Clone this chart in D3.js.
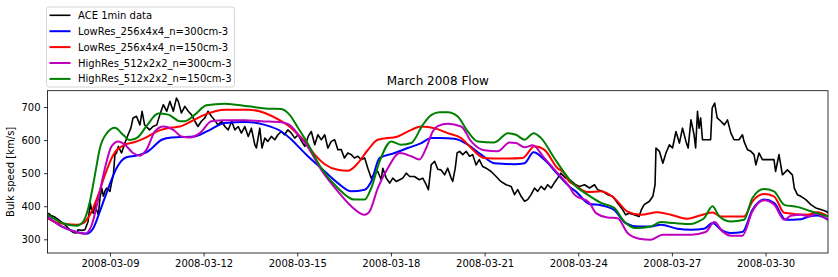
<!DOCTYPE html>
<html>
<head>
<meta charset="utf-8">
<script src="https://cdn.jsdelivr.net/npm/d3@7"></script>
<style>
  body { margin: 0; background: #fff; }
  text { font-family: "DejaVu Sans", sans-serif; }
</style>
</head>
<body>
<div id="plot"></div>
<script>
// time is in days after 2008-03-07 00:00 UTC, speed in km/s
const ace = [
  [0, 375], [0.05, 378], [0.1, 372], [0.2, 369], [0.34, 360], [0.45, 352], [0.56, 344], [0.67, 333],
  [0.77, 324], [0.85, 320], [0.93, 319], [0.98, 329], [1.1, 327], [1.2, 329], [1.3, 354], [1.37, 410],
  [1.42, 385], [1.47, 379], [1.52, 405], [1.57, 390], [1.63, 374], [1.68, 425], [1.74, 455], [1.79, 430],
  [1.85, 448], [1.9, 455], [2.0, 445], [2.05, 470], [2.11, 495], [2.16, 556], [2.21, 561], [2.27, 581],
  [2.37, 561], [2.48, 591], [2.58, 616], [2.67, 636], [2.74, 667], [2.85, 672], [2.96, 646], [3.03, 687],
  [3.11, 646], [3.27, 631], [3.38, 641], [3.5, 646], [3.6, 677], [3.71, 707], [3.82, 687], [3.92, 717],
  [4.03, 687], [4.13, 727], [4.19, 717], [4.29, 682], [4.4, 702], [4.51, 687], [4.61, 677], [4.72, 657],
  [4.82, 641], [4.93, 657], [5.04, 667], [5.14, 687], [5.25, 672], [5.35, 661], [5.46, 646], [5.58, 657],
  [5.68, 641], [5.79, 631], [5.9, 657], [6.0, 631], [6.11, 641], [6.21, 621], [6.32, 641], [6.43, 611],
  [6.53, 636], [6.64, 586], [6.69, 576], [6.8, 636], [6.87, 576], [6.96, 606], [7.06, 596], [7.17, 611],
  [7.28, 601], [7.38, 616], [7.49, 626], [7.59, 616], [7.7, 631], [7.81, 621], [7.92, 606], [8.03, 616],
  [8.14, 596], [8.24, 581], [8.35, 611], [8.45, 626], [8.56, 586], [8.66, 616], [8.77, 601], [8.88, 616],
  [8.98, 576], [9.09, 596], [9.2, 601], [9.3, 571], [9.41, 571], [9.51, 546], [9.62, 561], [9.73, 556],
  [9.83, 546], [9.94, 551], [10.05, 541], [10.16, 546], [10.26, 515], [10.37, 485], [10.48, 500], [10.58, 505],
  [10.69, 480], [10.74, 515], [10.85, 485], [10.96, 470], [11.06, 485], [11.17, 475], [11.28, 480], [11.38, 485],
  [11.49, 500], [11.6, 490], [11.75, 490], [11.91, 480], [12.02, 485], [12.13, 465], [12.2, 450], [12.29, 525],
  [12.4, 536], [12.5, 512], [12.6, 510], [12.72, 495], [12.82, 515], [12.93, 485], [12.98, 475], [13.06, 515],
  [13.12, 561], [13.2, 566], [13.3, 556], [13.41, 566], [13.52, 551], [13.62, 556], [13.73, 525], [13.83, 541],
  [13.94, 520], [14.05, 515], [14.21, 505], [14.37, 490], [14.52, 475], [14.69, 465], [14.85, 460], [14.96, 435],
  [15.06, 450], [15.17, 430], [15.28, 415], [15.38, 420], [15.49, 435], [15.6, 455], [15.7, 445], [15.81, 460],
  [15.92, 450], [16.02, 465], [16.13, 455], [16.23, 470], [16.34, 485], [16.44, 500], [16.6, 485], [16.76, 478],
  [16.92, 465], [17.04, 460], [17.2, 465], [17.36, 455], [17.52, 465], [17.62, 450], [17.78, 445], [17.94, 435],
  [18.1, 430], [18.26, 410], [18.42, 390], [18.52, 374], [18.63, 379], [18.79, 374], [18.95, 369], [19.02, 389],
  [19.11, 405], [19.28, 415], [19.39, 430], [19.46, 465], [19.49, 576], [19.6, 566], [19.71, 530], [19.81, 561],
  [19.92, 586], [20.02, 576], [20.13, 626], [20.24, 591], [20.34, 636], [20.45, 596], [20.52, 576], [20.61, 661],
  [20.71, 616], [20.76, 576], [20.82, 687], [20.87, 636], [20.92, 667], [20.98, 601], [21.24, 601], [21.29, 697],
  [21.37, 712], [21.45, 667], [21.57, 657], [21.68, 646], [21.78, 661], [21.89, 621], [21.99, 601], [22.15, 601],
  [22.26, 616], [22.31, 596], [22.42, 571], [22.53, 566], [22.63, 556], [22.69, 525], [22.79, 561], [22.9, 541],
  [23.0, 541], [23.27, 541], [23.32, 505], [23.43, 556], [23.54, 495], [23.7, 510], [23.86, 495], [23.92, 455],
  [24.02, 435], [24.13, 430], [24.29, 420], [24.45, 405], [24.61, 395], [24.77, 390], [24.93, 385], [25.0, 380]
];

const lowRes300 = [
  [0, 369], [0.45, 339], [0.93, 322], [1.26, 317], [1.47, 334], [1.68, 385], [1.95, 455], [2.21, 515],
  [2.53, 548], [2.85, 553], [3.22, 566], [3.66, 601], [3.98, 608], [4.24, 609], [4.72, 611], [5.14, 628],
  [5.68, 652], [6.32, 655], [6.96, 646], [7.49, 626], [7.82, 601], [8.08, 576], [8.3, 555], [8.77, 515],
  [9.3, 470], [9.73, 445], [10.16, 450], [10.37, 475], [10.64, 546], [11.12, 561], [11.54, 576], [11.97, 591],
  [12.3, 606], [12.56, 606], [13.04, 604], [13.46, 586], [13.89, 556], [14.31, 530], [14.96, 527], [15.28, 530],
  [15.57, 563], [15.91, 541], [16.34, 497], [16.71, 460], [16.92, 445], [17.36, 407], [17.73, 403], [18.15, 389],
  [18.52, 349], [18.9, 339], [19.33, 339], [19.65, 344], [20.18, 332], [20.61, 329], [21.03, 332], [21.3, 349],
  [21.57, 329], [21.89, 319], [22.26, 322], [22.58, 389], [22.95, 420], [23.27, 410], [23.65, 359], [24.13, 361],
  [24.39, 369], [24.66, 372], [25.0, 359]
];

const lowRes150 = [
  [0, 364], [0.34, 349], [0.93, 344], [1.15, 349], [1.36, 374], [1.63, 435], [1.84, 495], [2.11, 556],
  [2.48, 586], [2.8, 594], [3.11, 606], [3.55, 628], [3.98, 638], [4.24, 641], [4.61, 657], [5.04, 677],
  [5.68, 692], [6.43, 692], [6.96, 682], [7.49, 657], [7.75, 641], [8.03, 616], [8.24, 596], [8.56, 556],
  [8.88, 527], [9.3, 510], [9.62, 507], [9.94, 530], [10.26, 570], [10.58, 601], [11.22, 611], [11.65, 631],
  [11.97, 641], [12.4, 636], [12.82, 621], [13.25, 606], [13.57, 576], [13.99, 546], [14.53, 544], [15.22, 546],
  [15.6, 581], [15.91, 571], [16.34, 515], [16.55, 500], [16.71, 475], [16.88, 465], [17.3, 443], [17.73, 445],
  [18.15, 425], [18.58, 384], [19.01, 374], [19.54, 382], [19.97, 374], [20.5, 362], [20.87, 371], [21.3, 381],
  [21.57, 369], [22.31, 369], [22.58, 415], [22.95, 437], [23.27, 430], [23.6, 380], [24.34, 374], [24.66, 382],
  [25.0, 369]
];

const highRes300 = [
  [0, 367], [0.45, 339], [0.93, 322], [1.2, 317], [1.42, 344], [1.63, 425], [1.84, 515], [2.05, 581],
  [2.27, 596], [2.48, 586], [2.74, 561], [2.96, 553], [3.17, 571], [3.44, 626], [3.71, 641], [4.03, 631],
  [4.29, 611], [4.56, 608], [4.88, 621], [5.25, 657], [5.68, 660], [6.32, 660], [6.85, 657], [7.49, 654],
  [7.75, 646], [8.08, 611], [8.3, 585], [8.77, 510], [9.3, 445], [9.73, 400], [10.16, 374], [10.32, 385],
  [10.58, 455], [10.9, 515], [11.28, 561], [11.65, 551], [11.91, 541], [12.13, 576], [12.34, 626], [12.5, 642],
  [12.82, 649], [13.25, 641], [13.57, 596], [13.99, 569], [14.42, 566], [14.8, 593], [15.01, 591], [15.28, 578],
  [15.54, 584], [15.91, 546], [16.34, 500], [16.71, 460], [16.88, 435], [17.36, 410], [17.57, 379], [17.94, 366],
  [18.26, 364], [18.58, 319], [18.95, 302], [19.33, 299], [19.7, 314], [20.18, 314], [20.61, 314], [21.08, 322],
  [21.36, 352], [21.62, 324], [21.89, 311], [22.26, 311], [22.58, 385], [22.95, 418], [23.27, 405], [23.6, 359],
  [23.81, 371], [24.13, 374], [24.39, 369], [24.61, 377], [25.0, 359]
];

const highRes150 = [
  [0, 375], [0.45, 350], [0.93, 341], [1.15, 354], [1.36, 415], [1.52, 495], [1.68, 576], [1.9, 621],
  [2.16, 637], [2.42, 616], [2.64, 600], [2.9, 609], [3.17, 642], [3.55, 680], [3.87, 677], [4.24, 657],
  [4.4, 657], [4.72, 677], [5.09, 705], [5.68, 710], [6.43, 702], [7.06, 695], [7.49, 694], [7.75, 677],
  [8.03, 636], [8.27, 600], [8.77, 515], [9.3, 455], [9.83, 420], [10.16, 420], [10.37, 455], [10.64, 536],
  [11.01, 596], [11.33, 586], [11.65, 591], [12.02, 646], [12.3, 676], [12.56, 684], [12.82, 684], [13.14, 671],
  [13.46, 626], [13.78, 596], [14.31, 593], [14.75, 621], [15.01, 616], [15.28, 601], [15.57, 621], [15.81, 606],
  [16.23, 546], [16.71, 482], [16.87, 465], [17.3, 435], [17.73, 410], [18.15, 395], [18.47, 354], [18.84, 334],
  [19.33, 339], [19.65, 352], [20.07, 349], [20.61, 346], [20.87, 355], [21.03, 364], [21.3, 400], [21.52, 369],
  [21.89, 354], [22.31, 359], [22.58, 425], [22.95, 452], [23.27, 445], [23.6, 404], [24.02, 398], [24.45, 385],
  [25.0, 369]
];

const seriesNames = ["ACE 1min data", "LowRes_256x4x4_n=300cm-3", "LowRes_256x4x4_n=150cm-3",
                     "HighRes_512x2x2_n=300cm-3", "HighRes_512x2x2_n=150cm-3"];
const seriesColors = ["#000000", "#0000ff", "#ff0000", "#bf00bf", "#008000"];
const tickDates = ["2008-03-09", "2008-03-12", "2008-03-15", "2008-03-18", "2008-03-21",
                   "2008-03-24", "2008-03-27", "2008-03-30"];
const speedTicks = [300, 400, 500, 600, 700];

const width = 838, height = 277;
const plotLeft = 47.5, plotRight = 828, plotTop = 90.7, plotBottom = 253;
const t0 = Date.UTC(2008, 2, 7);
const toDate = d => new Date(t0 + d * 864e5);

const svg = d3.select("#plot").append("svg")
    .attr("width", width)
    .attr("height", height);

const x = d3.scaleUtc()
    .domain([toDate(0), toDate(25)])
    .range([plotLeft, plotRight]);

const y = d3.scaleLinear()
    .domain([258.6, 749.3])
    .range([plotBottom, plotTop]);

svg.append("clipPath").attr("id", "clip")
  .append("rect")
    .attr("x", plotLeft).attr("y", plotTop)
    .attr("width", plotRight - plotLeft).attr("height", plotBottom - plotTop);

const plot = svg.append("g").attr("clip-path", "url(#clip)");

const rawLine = d3.line()
    .x(d => x(toDate(d[0])))
    .y(d => y(d[1]));

const smoothLine = d3.line()
    .x(d => x(toDate(d[0])))
    .y(d => y(d[1]))
    .curve(d3.curveMonotoneX);

plot.append("path")
    .datum(ace)
    .attr("fill", "none")
    .attr("stroke", seriesColors[0])
    .attr("stroke-width", 1.6)
    .attr("stroke-linejoin", "round")
    .attr("d", rawLine);

[lowRes300, lowRes150, highRes300, highRes150].forEach((s, i) => {
    plot.append("path")
        .datum(s)
        .attr("fill", "none")
        .attr("stroke", seriesColors[i + 1])
        .attr("stroke-width", 2)
        .attr("d", smoothLine);
});

// axes
const xAxis = d3.axisBottom(x)
    .tickValues(tickDates.map(s => new Date(s + "T00:00:00Z")))
    .tickFormat(d3.utcFormat("%Y-%m-%d"))
    .tickSize(3.5)
    .tickPadding(3.5);

const yAxis = d3.axisLeft(y)
    .tickValues(speedTicks)
    .tickSize(3.5)
    .tickPadding(3.5);

const gx = svg.append("g").attr("transform", `translate(0,${plotBottom})`).call(xAxis);
const gy = svg.append("g").attr("transform", `translate(${plotLeft},0)`).call(yAxis);
[gx, gy].forEach(g => {
    g.select(".domain").remove();
    g.selectAll("text").attr("font-family", "DejaVu Sans").attr("font-size", 10).attr("fill", "#000");
    g.selectAll("line").attr("stroke", "#000").attr("stroke-width", 0.8);
});

// frame
svg.append("rect")
    .attr("x", plotLeft).attr("y", plotTop)
    .attr("width", plotRight - plotLeft).attr("height", plotBottom - plotTop)
    .attr("fill", "none")
    .attr("stroke", "#000")
    .attr("stroke-width", 0.8);

svg.append("text")
    .attr("x", (plotLeft + plotRight) / 2)
    .attr("y", plotTop - 6)
    .attr("text-anchor", "middle")
    .attr("font-size", 12)
    .text("March 2008 Flow");

svg.append("text")
    .attr("transform", `translate(14,${(plotTop + plotBottom) / 2}) rotate(-90)`)
    .attr("text-anchor", "middle")
    .attr("font-size", 10)
    .text("Bulk speed [km/s]");

// legend
const legend = svg.append("g");
legend.append("rect")
    .attr("x", 46.5).attr("y", 7)
    .attr("width", 188).attr("height", 80)
    .attr("rx", 2.5)
    .attr("fill", "#fff")
    .attr("stroke", "#cccccc")
    .attr("stroke-width", 0.8);

seriesNames.forEach((name, i) => {
    const cy = 15.3 + i * 15.9;
    legend.append("line")
        .attr("x1", 49.5).attr("x2", 70.5)
        .attr("y1", cy).attr("y2", cy)
        .attr("stroke", seriesColors[i])
        .attr("stroke-width", i === 0 ? 1.6 : 2);
    legend.append("text")
        .attr("x", 78)
        .attr("y", cy)
        .attr("dy", "0.35em")
        .attr("font-size", 10)
        .text(name);
});
</script>
</body>
</html>
